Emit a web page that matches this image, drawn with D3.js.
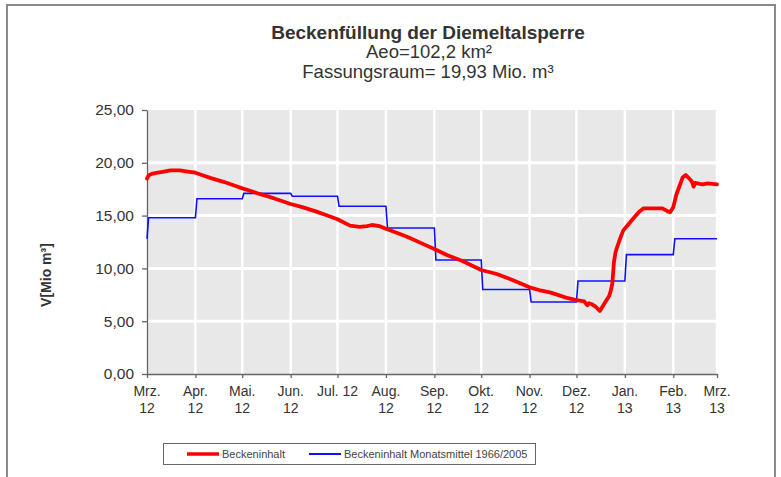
<!DOCTYPE html>
<html>
<head>
<meta charset="utf-8">
<script src="https://cdn.jsdelivr.net/npm/d3@7"></script>
<style>
  body { margin: 0; background: #fff; }
  svg { display: block; font-family: Arial, "Liberation Sans", sans-serif; }
</style>
</head>
<body>
<script>
// month boundaries and axis labels
var monthStarts = ["2012-03-01","2012-04-01","2012-05-01","2012-06-01","2012-07-01","2012-08-01",
                   "2012-09-01","2012-10-01","2012-11-01","2012-12-01","2013-01-01","2013-02-01","2013-03-01"];
var labelTop = ["Mrz.","Apr.","Mai.","Jun.","Jul. 12","Aug.","Sep.","Okt.","Nov.","Dez.","Jan.","Feb.","Mrz."];
var labelBottom = ["12","12","12","12","","12","12","12","12","12","13","13","13"];

// Beckeninhalt Monatsmittel 1966/2005 (one value per month)
var meanStart = 12.8;
var monthlyMean = [14.8, 16.6, 17.1, 16.83, 15.88, 13.83, 10.8, 8.0, 6.82, 8.81, 11.3, 12.81];

// Beckeninhalt (measured)
var contentDates = ["2012-03-01","2012-03-02","2012-03-04","2012-03-07","2012-03-11","2012-03-16","2012-03-22",
  "2012-03-27","2012-04-01","2012-04-06","2012-04-11","2012-04-19","2012-04-25","2012-05-01","2012-05-07",
  "2012-05-12","2012-05-18","2012-05-23","2012-06-01","2012-06-09","2012-06-17","2012-06-24","2012-07-01",
  "2012-07-09","2012-07-15","2012-07-20","2012-07-23","2012-07-28","2012-08-01","2012-08-10","2012-08-16",
  "2012-08-25","2012-09-01","2012-09-09","2012-09-19","2012-10-01","2012-10-11","2012-10-21","2012-11-01",
  "2012-11-07","2012-11-14","2012-11-20","2012-11-25","2012-12-01","2012-12-06","2012-12-08","2012-12-09",
  "2012-12-11","2012-12-13","2012-12-16","2012-12-19","2012-12-22","2012-12-23","2012-12-24","2012-12-25",
  "2012-12-26","2012-12-27","2012-12-29","2012-12-31","2013-01-02","2013-01-06","2013-01-10","2013-01-13",
  "2013-01-25","2013-01-28","2013-01-30","2013-02-01","2013-02-03","2013-02-05","2013-02-07","2013-02-09",
  "2013-02-11","2013-02-13","2013-02-14","2013-02-15","2013-02-18","2013-02-20","2013-02-23","2013-03-01"];
var contentValues = [18.5, 18.8, 18.95, 19.05, 19.15, 19.28, 19.29,
  19.17, 19.06, 18.8, 18.55, 18.2, 17.9, 17.58, 17.3,
  17.05, 16.8, 16.55, 16.1, 15.78, 15.4, 15.03, 14.65,
  14.05, 13.93, 14.0, 14.11, 14.0, 13.75, 13.26, 12.9,
  12.3, 11.84, 11.27, 10.7, 9.85, 9.47, 8.9, 8.21,
  7.95, 7.73, 7.45, 7.2, 7.0, 6.87, 6.5, 6.7,
  6.6, 6.4, 5.97, 6.7, 7.4, 7.9, 8.6, 10.6,
  11.5, 12.0, 12.85, 13.6, 13.95, 14.65, 15.35, 15.69,
  15.69, 15.44, 15.31, 15.8, 17.0, 17.8, 18.6, 18.84,
  18.55, 18.2, 17.74, 18.1, 18.0, 17.96, 18.06, 17.96];

var yTicks = [0, 5, 10, 15, 20, 25];

var parse = d3.timeParse("%Y-%m-%d");
var months = monthStarts.map(parse);

var svg = d3.select("body").append("svg")
  .attr("width", 781)
  .attr("height", 477);

// chart frame
svg.append("rect")
  .attr("x", 7).attr("y", 5)
  .attr("width", 768).attr("height", 490)
  .attr("fill", "#fff")
  .attr("stroke", "#8a8a8a")
  .attr("stroke-width", 2);

var x = d3.scaleTime().domain([months[0], months[months.length - 1]]).range([147, 717]);
var y = d3.scaleLinear().domain([0, 25]).range([374, 110]);

// plot area
svg.append("rect")
  .attr("x", x.range()[0]).attr("y", y(25))
  .attr("width", x.range()[1] - x.range()[0] + 1)
  .attr("height", y(0) - y(25))
  .attr("fill", "#e8e8e8");

svg.append("g").selectAll("line")
  .data(yTicks.slice(1, -1))
  .join("line")
  .attr("x1", x.range()[0]).attr("x2", x.range()[1] + 1)
  .attr("y1", d => y(d)).attr("y2", d => y(d))
  .attr("stroke", "#fff").attr("stroke-width", 3);

svg.append("g").selectAll("line")
  .data(months.slice(1))
  .join("line")
  .attr("x1", d => x(d)).attr("x2", d => x(d))
  .attr("y1", y(25)).attr("y2", y(0))
  .attr("stroke", "#fff").attr("stroke-width", 2.5);

// axes
var fmt = d => d3.format(".2f")(d).replace(".", ",");
var yAxis = svg.append("g")
  .attr("transform", "translate(" + x.range()[0] + ",0)")
  .call(d3.axisLeft(y).tickValues(yTicks).tickSize(5).tickSizeOuter(0).tickPadding(8).tickFormat(fmt));
yAxis.selectAll("text").attr("font-size", 15.5).attr("fill", "#333").attr("font-family", "Arial, 'Liberation Sans', sans-serif");

var xAxis = svg.append("g")
  .attr("transform", "translate(0," + y(0) + ")")
  .call(d3.axisBottom(x).tickValues(months).tickSize(4).tickSizeOuter(0).tickFormat(""));

svg.selectAll(".domain, .tick line").attr("stroke", "#666").attr("stroke-width", 1.3);

var xl = svg.append("g").attr("fill", "#333").attr("font-size", 14).attr("text-anchor", "middle");
xl.selectAll("text.t1").data(months).join("text").attr("class", "t1")
  .attr("x", d => x(d)).attr("y", 396)
  .text((d, i) => labelTop[i]);
xl.selectAll("text.t2").data(months).join("text").attr("class", "t2")
  .attr("x", d => x(d)).attr("y", 413)
  .text((d, i) => labelBottom[i]);

// mean steps
var meanPts = [[months[0], meanStart]];
monthlyMean.forEach(function(v, i){
  meanPts.push([d3.timeDay.offset(months[i], 1), v]);
  meanPts.push([months[i + 1], v]);
});
var line = d3.line().x(d => x(d[0])).y(d => y(d[1]));
svg.append("path")
  .attr("d", line(meanPts))
  .attr("fill", "none")
  .attr("stroke", "#1010ff")
  .attr("stroke-width", 1.6);

var contentPts = contentDates.map((d, i) => [parse(d), contentValues[i]]);
svg.append("path")
  .attr("d", line(contentPts))
  .attr("fill", "none")
  .attr("stroke", "#ff0000")
  .attr("stroke-width", 3.8)
  .attr("stroke-linejoin", "round")
  .attr("stroke-linecap", "round");

// titles
var title = svg.append("g").attr("text-anchor", "middle").attr("fill", "#333");
title.append("text").attr("x", 428).attr("y", 39).attr("font-size", 19).attr("font-weight", "bold")
  .text("Beckenfüllung der Diemeltalsperre");
title.append("text").attr("x", 429).attr("y", 58).attr("font-size", 18.5)
  .text("Aeo=102,2 km²");
title.append("text").attr("x", 428).attr("y", 78).attr("font-size", 18.5)
  .text("Fassungsraum= 19,93 Mio. m³");

svg.append("text")
  .attr("transform", "translate(51,275) rotate(-90)")
  .attr("text-anchor", "middle")
  .attr("font-size", 14)
  .attr("font-weight", "bold")
  .attr("fill", "#333")
  .text("V[Mio m³]");

// legend
var legend = svg.append("g");
legend.append("rect")
  .attr("x", 163.5).attr("y", 443.5)
  .attr("width", 372).attr("height", 21)
  .attr("fill", "#fff").attr("stroke", "#666").attr("stroke-width", 1);
var legendItems = [["Beckeninhalt", "#ff0000", 3.5, 187], ["Beckeninhalt Monatsmittel 1966/2005", "#1010ff", 2, 309]];
legendItems.forEach(function(it){
  legend.append("line")
    .attr("x1", it[3]).attr("x2", it[3] + 32)
    .attr("y1", 454).attr("y2", 454)
    .attr("stroke", it[1]).attr("stroke-width", it[2]);
  legend.append("text")
    .attr("x", it[3] + 35).attr("y", 458)
    .attr("font-size", 11).attr("fill", "#444")
    .text(it[0]);
});
</script>
</body>
</html>
